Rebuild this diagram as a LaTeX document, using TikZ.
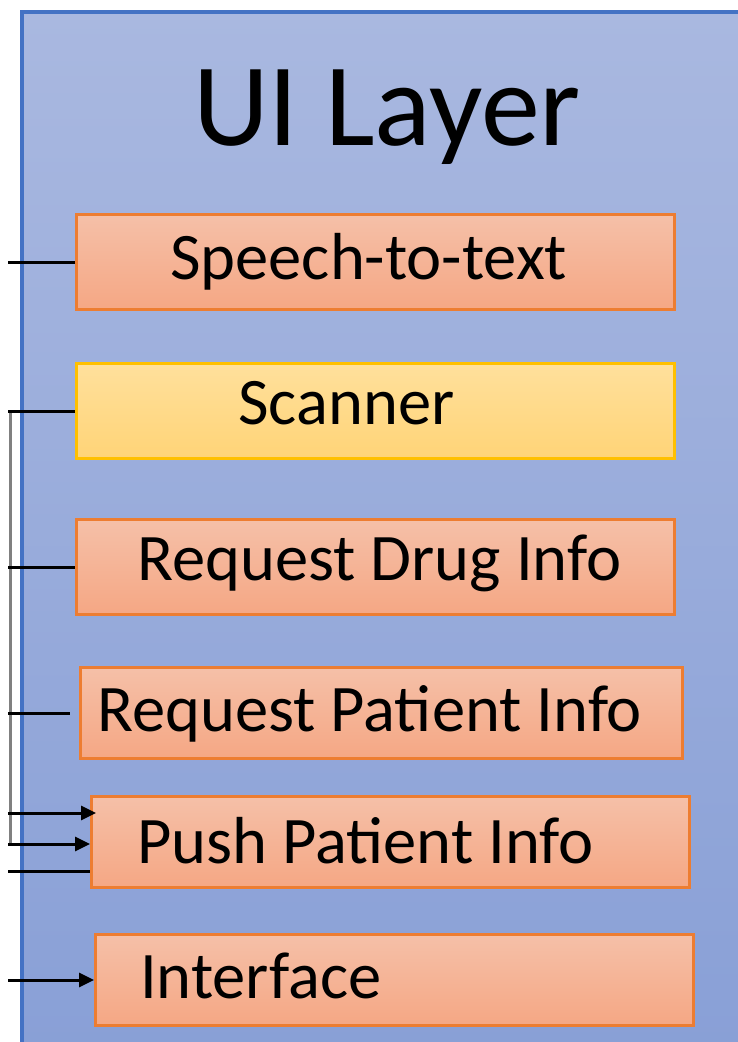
\documentclass[tikz,border=0pt]{standalone}
\usepackage{fontspec}
\setmainfont{Carlito}
\usetikzlibrary{arrows.meta,positioning}

\definecolor{layerline}{HTML}{4472C4}
\definecolor{layertop}{HTML}{A9B8E0}
\definecolor{layerbot}{HTML}{889FD6}
\definecolor{compline}{HTML}{ED7D31}
\definecolor{comptop}{HTML}{F5C0A8}
\definecolor{compbot}{HTML}{F5A784}
\definecolor{scanline}{HTML}{FFC000}
\definecolor{scantop}{HTML}{FFE09C}
\definecolor{scanbot}{HTML}{FFD477}
\definecolor{railgray}{HTML}{808080}

\tikzset{
  comp/.style={draw=compline, line width=3pt, top color=comptop, bottom color=compbot,
    minimum width=598pt, minimum height=95pt, anchor=north west, inner sep=0pt},
  scanbox/.style={comp, draw=scanline, top color=scantop, bottom color=scanbot},
  lbl/.style={anchor=base west, inner sep=0pt, font=\fontsize{66.5}{72}\selectfont},
  wire/.style={line width=3pt},
  feed/.style={wire, -{Triangle[length=15pt,width=14pt]}},
}

\begin{document}
\begin{tikzpicture}[x=1pt,y=-1pt]
\useasboundingbox (0,0) rectangle (738,1042);
\clip (0,0) rectangle (738,1042);

% layer background
\draw[line width=4pt, draw=layerline, top color=layertop, bottom color=layerbot]
  (22,12) rectangle (790,1080);
\node[font=\fontsize{118}{124}\selectfont, inner sep=0pt] (title) at (387,117) {UI Layer};

% components
\node[comp] (speech) at (75,213) {};
\node[scanbox] (scan) at (75,362) {};
\node[comp] (drug) at (75,518) {};
\node[comp, minimum width=602pt, minimum height=91pt] (patreq) at (79,666) {};
\node[comp, minimum height=91pt] (push) at (90,795) {};
\node[comp, minimum height=91pt] (iface) at (94,933) {};

\node[lbl] (speecht) at ([xshift=95pt,yshift=-17pt]speech.west) {Speech-to-text};
\node[lbl] (scant) at ([xshift=163pt,yshift=-13pt]scan.west) {Scanner};
\node[lbl] (drugt) at ([xshift=62pt,yshift=-13pt]drug.west) {Request Drug Info};
\node[lbl] (patreqt) at ([xshift=18pt,yshift=-18pt]patreq.west) {Request Patient Info};
\node[lbl] (pusht) at ([xshift=47pt,yshift=-21pt]push.west) {Push Patient Info};
\node[lbl] (ifacet) at ([xshift=46pt,yshift=-18pt]iface.west) {Interface};

% left edge
\coordinate (edge) at (8,0);
\coordinate (rail) at (10,0);
\coordinate (pushin1) at ([yshift=29pt]push.west);
\coordinate (pushin2) at ([yshift=-2pt]push.west);
\coordinate (pushin3) at ([yshift=-29pt]push.west);

% connectors
\draw[wire, railgray] (scan.west -| rail) -- (pushin2 -| rail);
\draw[wire] (speech.west -| edge) -- (speech.west);
\draw[wire] (scan.west -| edge) -- (scan.west);
\draw[wire] (drug.west -| edge) -- (drug.west);
\draw[wire] (patreq.west -| edge) -- ([xshift=-9pt]patreq.west);
\draw[feed] (pushin1 -| edge) -- ([xshift=6pt]pushin1);
\draw[feed] (pushin2 -| edge) -- (pushin2);
\draw[wire] (pushin3 -| edge) -- (pushin3);
\draw[feed] (iface.west -| edge) -- (iface.west);
\end{tikzpicture}
\end{document}
